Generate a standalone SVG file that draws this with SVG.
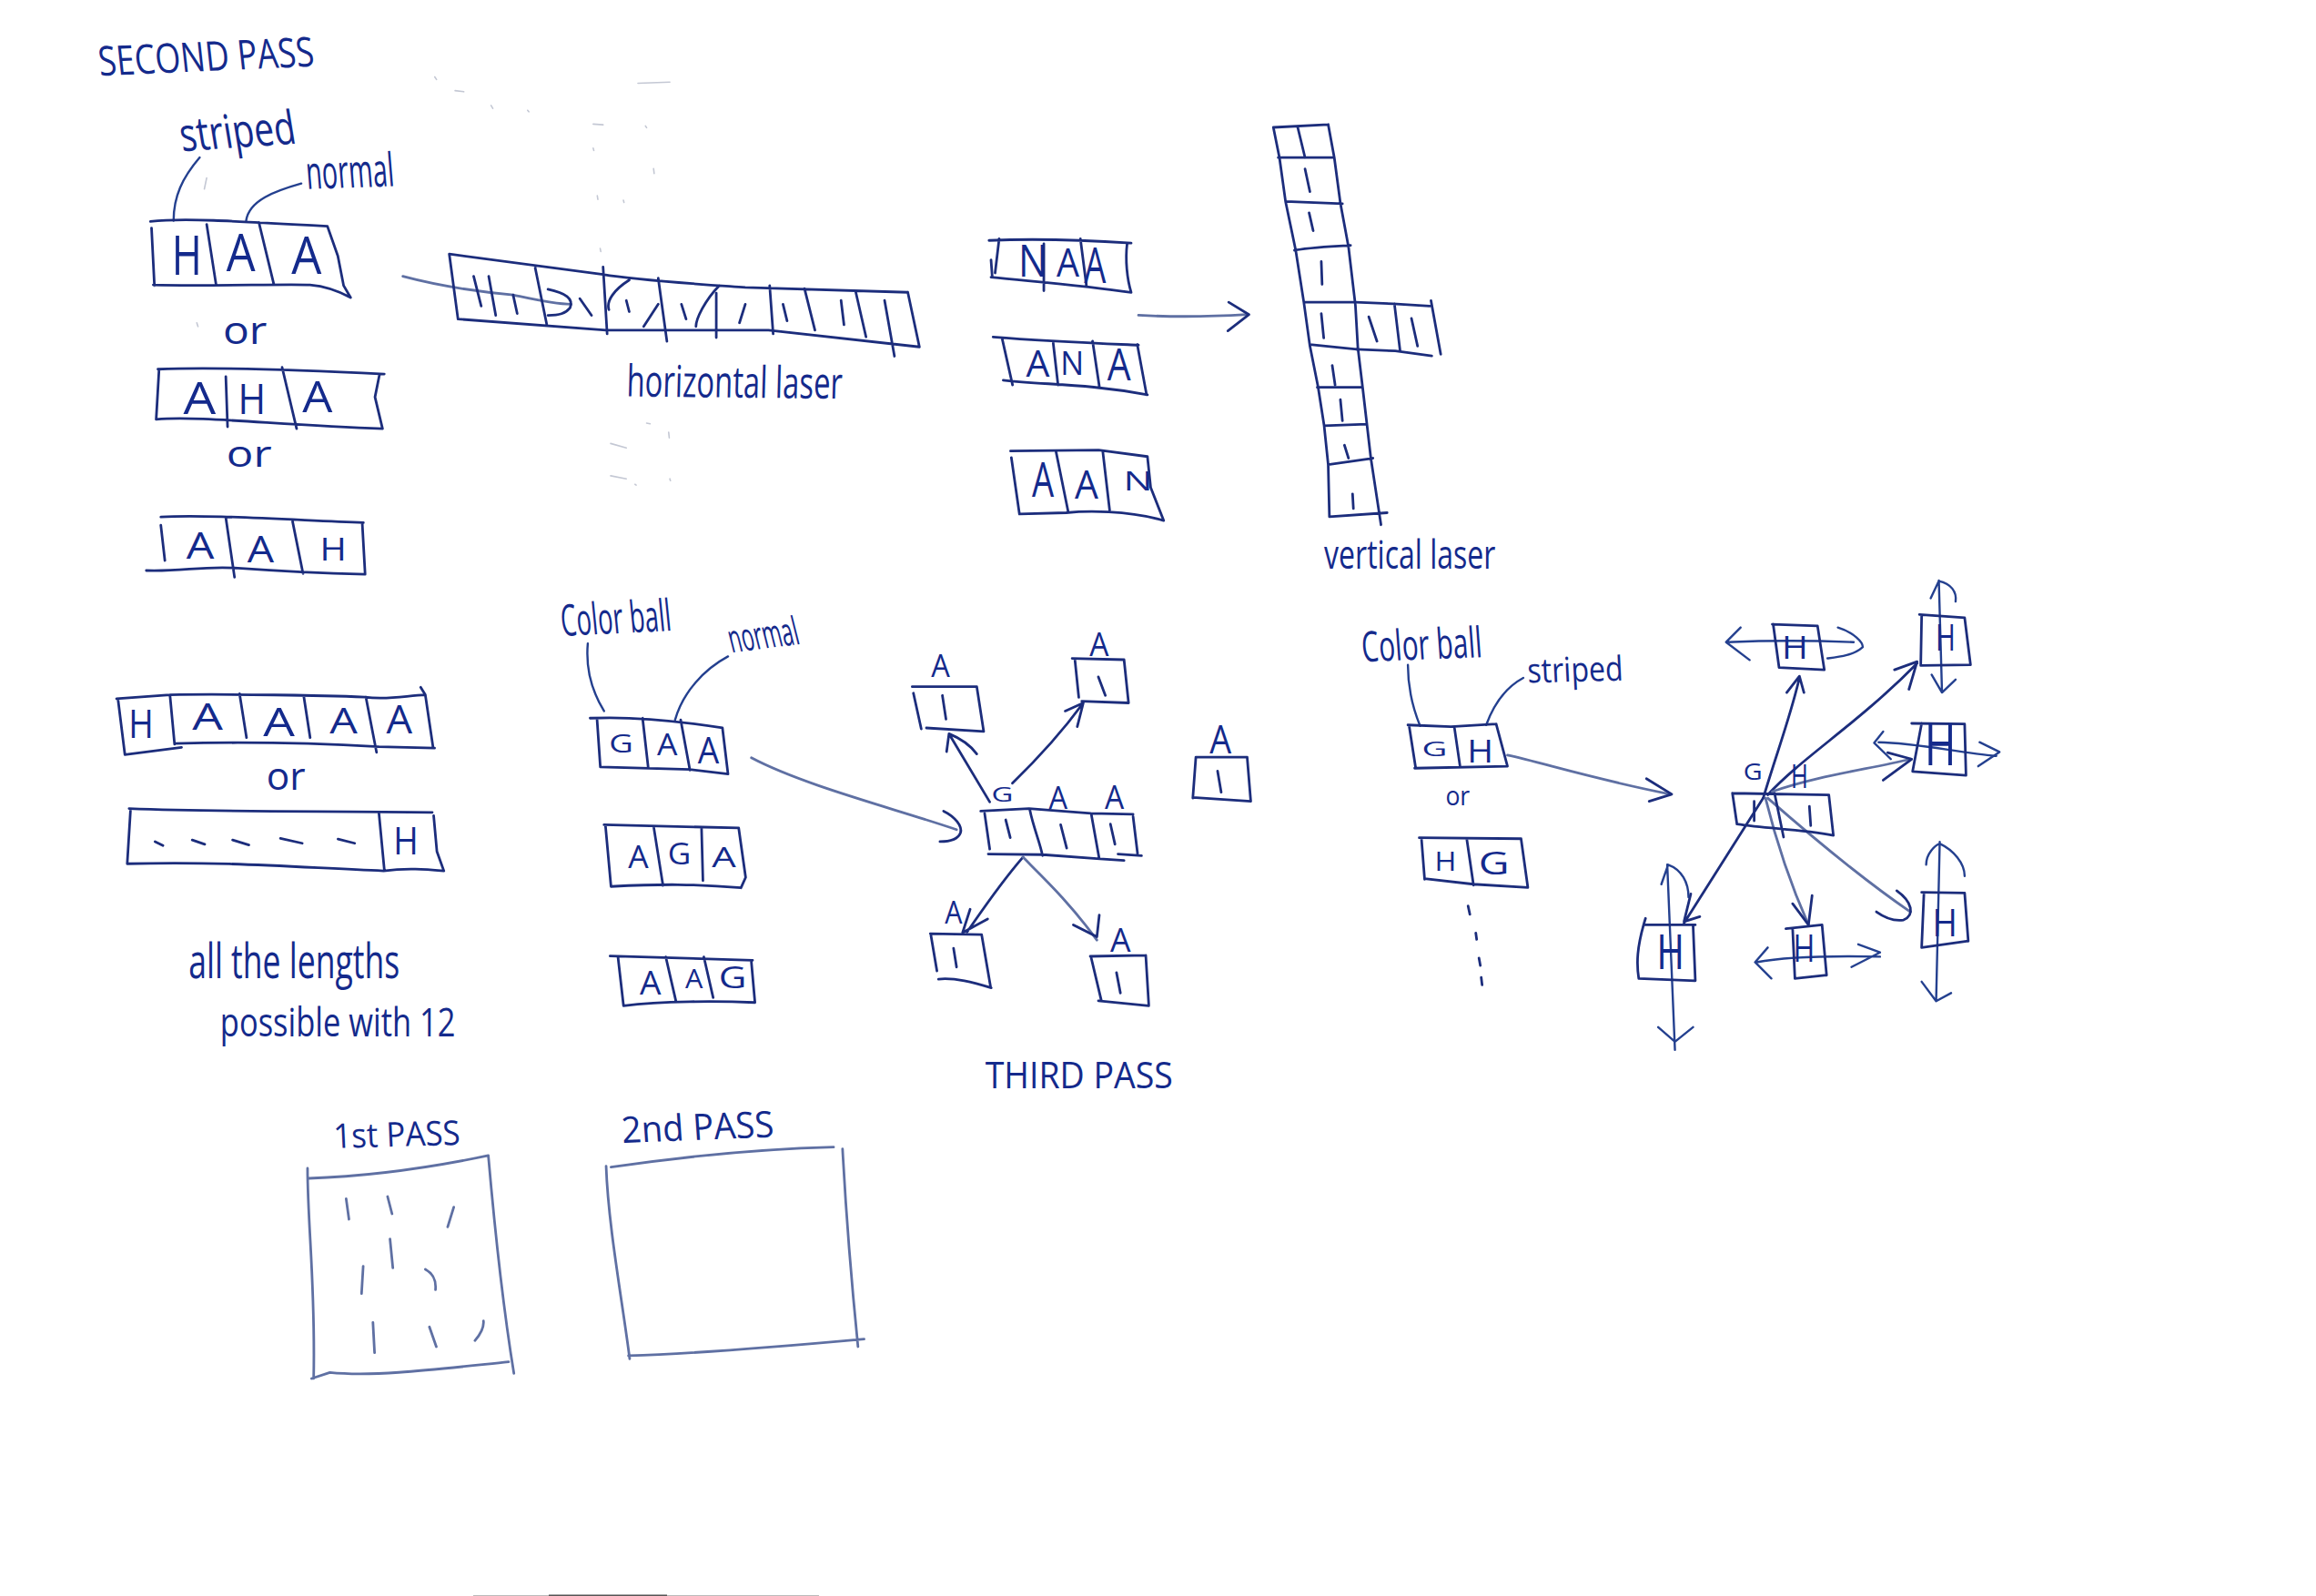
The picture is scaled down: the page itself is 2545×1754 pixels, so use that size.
<svg xmlns="http://www.w3.org/2000/svg" width="2545" height="1754" viewBox="0 0 2545 1754">
<style>
.z1{transform:translate(60px,20px) scale(.6378,.4082)}
.z2{transform:translate(1060px,100px) scale(.4464,.3571)}
.z3{transform:translate(100px,650px) scale(.5102,.3571)}
.z4{transform:translate(950px,660px) scale(.3316,.3571)}
.z5{transform:translate(1470px,620px) scale(.4974,.3571)}
.z6{transform:translate(300px,1180px) scale(.4464,.3333)}
path{fill:none;stroke:#1c2d7c;stroke-width:2.8;stroke-linecap:round;stroke-linejoin:round;vector-effect:non-scaling-stroke}
path.p{stroke:#5f70a3}
path.c{stroke:#24408f;stroke-width:2.4}
path.s{stroke:#c4c8d4;stroke-width:1.6}
text{font-family:"Open Sans","Liberation Sans",sans-serif;font-weight:400;fill:#142a8c}
</style>
<rect width="2545" height="1754" fill="#fff"/>
<rect x="520" y="1753" width="380" height="1" fill="#bbb"/>
<rect x="603" y="1752.5" width="130" height="1.5" fill="#555"/>
<g id="specks" class="z1"><path class="s" d="M1005,175L1060,172M655,158L658,165M690,195L705,198M752,235L755,243M815,248L817,252M928,285L945,287M1018,290L1020,295M928,350L929,356M1032,405L1033,418M935,478L936,488M980,490L981,496M940,620L941,628M1020,1090L1026,1092M1058,1115L1059,1130M958,1145L985,1157M958,1232L985,1240M1000,1255L1002,1257M1060,1240L1061,1245M245,820L247,830M262,430L258,460"/></g>

<g id="connectors">
<g class="z1">
<path class="c" d="M250,375C220,430 205,480 205,545M425,445C380,465 335,490 330,545"/>
<path class="p" d="M600,695C660,720 720,735 790,745C820,755 860,770 890,770"/>
<path d="M850,730C880,740 895,755 888,780C880,795 870,800 850,800"/>
</g>
<g class="z2"><path class="p" d="M428,690C500,695 600,695 695,688"/><path d="M650,650L700,688L648,738"/></g>
<g class="z3"><path class="c" d="M1070,160C1065,240 1080,310 1105,368M1258,395C1275,310 1320,240 1372,200"/></g>
<g class="z4">
<path class="p" d="M-375,484C-200,570 100,640 305,705"/><path d="M262,648C300,665 325,695 318,715C310,735 280,742 250,742"/>
<path d="M415,620L280,410M272,465L280,410C320,425 350,445 372,472"/>
<path d="M490,562C570,490 650,410 725,315M665,340L725,315L705,388"/>
<path d="M525,790C450,870 400,940 340,1020M350,950L325,1022L408,980"/>
<path class="p" d="M525,790C600,860 680,930 770,1045"/><path d="M692,998L770,1035L778,968"/>
</g>
<g class="z5">
<path class="c" d="M155,310C155,380 165,440 182,498M410,350C370,380 345,430 328,495"/>
<path class="p" d="M375,588C450,610 560,660 735,708"/><path d="M682,660L738,708L688,730"/>
<path d="M940,720L765,1105M780,1015L765,1100L800,1085"/>
<path d="M940,720C970,580 1000,470 1020,350M992,395L1020,345L1030,395"/>
<path d="M950,710C1030,590 1150,490 1280,305M1230,325L1280,300L1262,385"/>
<path class="p" d="M960,700C1060,650 1180,630 1265,600"/><path d="M1215,580L1268,600L1205,665"/>
<path class="p" d="M945,720C970,860 1005,1000 1040,1110"/><path d="M1005,1045L1040,1110L1048,1020"/>
<path class="p" d="M950,720C1040,830 1150,960 1265,1070"/><path d="M1235,1005C1270,1040 1275,1080 1250,1095C1225,1100 1205,1085 1190,1070"/>
<path class="c" d="M860,240C950,235 1050,235 1140,240M890,195L858,240L910,295M1105,195C1140,210 1160,240 1160,255C1140,280 1110,285 1082,290"/>
<path class="c" d="M1328,50L1335,395M1310,105L1328,52C1355,60 1368,85 1365,115M1312,340L1335,395L1365,355"/>
<path class="c" d="M1195,548C1280,550 1370,580 1455,590M1205,515L1185,550L1222,600M1418,548L1462,578L1415,622"/>
<path class="c" d="M728,925L745,1495M715,985L730,925C760,940 775,980 775,1025M708,1425L745,1470L785,1425"/>
<path class="c" d="M925,1225C1000,1205 1100,1205 1198,1208M950,1180L922,1225L958,1275M1150,1170L1198,1195L1135,1240"/>
<path class="c" d="M1330,855L1322,1345M1300,925C1300,890 1320,865 1330,860C1360,880 1385,920 1385,960M1290,1285L1322,1345L1355,1320"/>
</g>
</g>

<g id="second-pass-title" class="z1"><text x="78" y="155" font-size="110" textLength="372" lengthAdjust="spacingAndGlyphs" transform="rotate(-4 78 155)">SECOND PASS</text></g>
<g id="label-striped-1" class="z1"><text x="220" y="358" font-size="125" textLength="200" lengthAdjust="spacingAndGlyphs" transform="rotate(-6 220 358)">striped</text></g>
<g id="label-normal-1" class="z1"><text x="435" y="460" font-size="125" textLength="152" lengthAdjust="spacingAndGlyphs" transform="rotate(-3 435 460)">normal</text></g>

<g id="row-haa" class="z1">
<path d="M165,547C220,538 300,545 470,560M470,560L488,640L498,720L510,752M170,718C260,722 400,715 440,718C470,722 490,735 510,752M167,565L172,720M262,555L278,715M352,550L378,718"/>
<text x="202" y="690" font-size="146" textLength="52" lengthAdjust="spacingAndGlyphs">H</text>
<text x="296" y="680" font-size="140" textLength="50" lengthAdjust="spacingAndGlyphs">A</text>
<text x="408" y="688" font-size="140" textLength="52" lengthAdjust="spacingAndGlyphs">A</text>
</g>
<g id="or-1" class="z1"><text x="290" y="878" font-size="105" textLength="76" lengthAdjust="spacingAndGlyphs">or</text></g>
<g id="row-aha" class="z1">
<path d="M178,945C250,940 400,945 568,958M180,945L175,1080M560,958L552,1020L565,1105M175,1080C250,1070 380,1095 565,1105M295,965L298,1100M392,940L417,1105"/>
<text x="222" y="1065" font-size="120" textLength="56" lengthAdjust="spacingAndGlyphs">A</text>
<text x="316" y="1065" font-size="112" textLength="48" lengthAdjust="spacingAndGlyphs">H</text>
<text x="427" y="1060" font-size="118" textLength="52" lengthAdjust="spacingAndGlyphs">A</text>
</g>
<g id="or-2" class="z1"><text x="296" y="1208" font-size="100" textLength="78" lengthAdjust="spacingAndGlyphs">or</text></g>
<g id="row-aah" class="z1">
<path d="M183,1343C250,1335 400,1350 532,1358M183,1365L190,1460M530,1358L535,1497M158,1487C220,1490 250,1475 310,1480C400,1490 480,1495 535,1497M295,1345L310,1505M410,1355L428,1495"/>
<text x="227" y="1455" font-size="98" textLength="48" lengthAdjust="spacingAndGlyphs">A</text>
<text x="332" y="1465" font-size="98" textLength="46" lengthAdjust="spacingAndGlyphs">A</text>
<text x="457" y="1460" font-size="84" textLength="46" lengthAdjust="spacingAndGlyphs">H</text>
</g>

<g id="horizontal-strip" class="z1">
<path d="M680,635L945,690C1000,705 1100,715 1190,725L1470,738M695,810L950,840L1230,840L1490,885M680,635L695,810M1470,738L1490,885M828,672L848,825M945,670L952,850M1040,700L1055,870M990,705C965,730 950,760 955,785M1040,770L1015,830M1145,720C1120,760 1105,810 1105,830M1140,740L1140,860M1190,770L1180,820M1232,720L1238,850M1292,728L1310,840M1380,735L1398,858M1430,760L1447,910"/>
<path d="M722,695L735,775M748,695L760,800M790,745L797,795M905,755L925,800M985,760L990,790M1080,770L1088,810M1255,770L1262,815M1355,760L1360,825"/>
</g>
<g id="label-horizontal-laser" class="z1"><text x="985" y="1018" font-size="118" textLength="372" lengthAdjust="spacingAndGlyphs" transform="rotate(1 985 1018)">horizontal laser</text></g>

<g id="row-naa" class="z2">
<path d="M60,460C150,455 250,455 410,468M85,455L75,560M65,520L68,572M400,470C395,520 400,580 410,620M65,573C200,590 300,600 410,620M195,470L195,615M285,455L300,600"/>
<text x="132" y="570" font-size="139" textLength="72" lengthAdjust="spacingAndGlyphs">N</text>
<text x="226" y="570" font-size="125" textLength="56" lengthAdjust="spacingAndGlyphs">A</text>
<text x="294" y="590" font-size="155" textLength="54" lengthAdjust="spacingAndGlyphs">A</text>
</g>
<g id="row-ana" class="z2">
<path d="M70,757C200,770 300,775 428,782M92,760L118,905M425,780L448,935M95,890C200,905 300,900 450,935M218,775L230,905M315,770L332,912"/>
<text x="151" y="880" font-size="111" textLength="58" lengthAdjust="spacingAndGlyphs">A</text>
<text x="236" y="875" font-size="104" textLength="58" lengthAdjust="spacingAndGlyphs">N</text>
<text x="351" y="890" font-size="139" textLength="58" lengthAdjust="spacingAndGlyphs">A</text>
</g>
<g id="row-aan" class="z2">
<path d="M113,1108L330,1105L450,1125M115,1128L135,1302M450,1125L458,1220L490,1322M135,1302L250,1298C300,1292 400,1290 490,1322M225,1110L255,1295M340,1108L357,1290"/>
<text x="166" y="1250" font-size="146" textLength="54" lengthAdjust="spacingAndGlyphs">A</text>
<text x="271" y="1255" font-size="125" textLength="58" lengthAdjust="spacingAndGlyphs">A</text>
<text x="391" y="1230" font-size="84" textLength="72" lengthAdjust="spacingAndGlyphs">N</text>
</g>
<g id="vertical-strip" class="z2">
<path d="M760,112L775,205L790,340L815,490L835,650L850,785L870,910L885,1030L895,1150L898,1310M895,103L910,205L925,345L945,480L962,660L968,790L980,915L1000,1130L1025,1335M760,112L895,103M772,205L910,205M790,340L930,347M812,490C860,480 900,478 950,475M835,650L962,650M850,780L965,795M868,912L978,912M885,1030L990,1025M895,1150L1005,1130M898,1310L1040,1298M820,112L838,205"/>
<path d="M838,240L850,310M848,375L858,430M878,525L880,595M878,685L884,760M905,845L912,905M925,950L930,1015M935,1090L945,1130M955,1240L957,1285"/>
<path d="M962,650L1055,655L1145,662M1148,645L1172,810M965,795L1060,800L1150,815M1058,655L1072,800M995,695L1015,770M1100,700L1115,785"/>
</g>
<g id="label-vertical-laser" class="z2"><text x="885" y="1470" font-size="125" textLength="422" lengthAdjust="spacingAndGlyphs">vertical laser</text></g>

<g id="row-haaaa" class="z3">
<path d="M55,330L170,318C300,315 500,320 590,325C640,335 680,320 720,318M58,330L73,502M710,295L720,318L737,482M73,502L195,480M180,468C260,465 400,460 620,478L740,482M170,318L180,470M320,315L335,450M458,320L472,450M592,325L615,495"/>
<text x="81" y="450" font-size="125" textLength="54" lengthAdjust="spacingAndGlyphs">H</text>
<text x="218" y="425" font-size="111" textLength="66" lengthAdjust="spacingAndGlyphs">A</text>
<text x="371" y="445" font-size="121" textLength="68" lengthAdjust="spacingAndGlyphs">A</text>
<text x="514" y="438" font-size="108" textLength="60" lengthAdjust="spacingAndGlyphs">A</text>
<text x="636" y="438" font-size="122" textLength="56" lengthAdjust="spacingAndGlyphs">A</text>
</g>
<g id="or-3" class="z3"><text x="378" y="610" font-size="120" textLength="84" lengthAdjust="spacingAndGlyphs">or</text></g>
<g id="row-dashes" class="z3">
<path d="M82,668C300,680 500,675 735,680M85,675L78,838M738,690L745,800L760,860M78,838C300,830 450,850 630,860C680,850 720,855 760,860M620,680L632,860M138,770L155,782M218,765L245,778M305,765L340,780M408,760L455,775M532,762L568,775"/>
<text x="651" y="810" font-size="118" textLength="54" lengthAdjust="spacingAndGlyphs">H</text>
</g>
<g id="label-all-lengths" class="z3">
<text x="210" y="1190" font-size="150" textLength="455" lengthAdjust="spacingAndGlyphs">all the lengths</text>
<text x="278" y="1370" font-size="125" textLength="507" lengthAdjust="spacingAndGlyphs">possible with 12</text>
</g>
<g id="label-colorball-1" class="z3"><text x="1015" y="137" font-size="135" textLength="238" lengthAdjust="spacingAndGlyphs" transform="rotate(-4 1015 137)">Color ball</text></g>
<g id="label-normal-2" class="z3"><text x="1380" y="188" font-size="120" textLength="152" lengthAdjust="spacingAndGlyphs" transform="rotate(-10 1380 188)">normal</text></g>
<g id="row-gaa" class="z3">
<path d="M1075,390C1150,385 1250,395 1360,420M1090,395L1097,540M1360,420L1372,562M1097,540L1290,548L1372,562M1188,390L1200,540M1270,395L1290,550"/>
<text x="1116" y="495" font-size="76" textLength="52" lengthAdjust="spacingAndGlyphs">G</text>
<text x="1219" y="505" font-size="90" textLength="44" lengthAdjust="spacingAndGlyphs">A</text>
<text x="1307" y="530" font-size="111" textLength="46" lengthAdjust="spacingAndGlyphs">A</text>
</g>
<g id="row-aga" class="z3">
<path d="M1105,718L1395,728M1108,720L1120,908M1395,728L1410,880L1400,912M1120,908C1230,900 1300,900 1400,912M1212,725L1232,905M1315,730L1318,890"/>
<text x="1157" y="850" font-size="97" textLength="44" lengthAdjust="spacingAndGlyphs">A</text>
<text x="1242" y="840" font-size="90" textLength="50" lengthAdjust="spacingAndGlyphs">G</text>
<text x="1337" y="848" font-size="88" textLength="52" lengthAdjust="spacingAndGlyphs">A</text>
</g>
<g id="row-aag" class="z3">
<path d="M1118,1122L1425,1135M1135,1125L1147,1275M1422,1135L1430,1265M1147,1275C1230,1260 1350,1260 1430,1265M1238,1125L1260,1262M1320,1125L1340,1250"/>
<text x="1182" y="1240" font-size="104" textLength="46" lengthAdjust="spacingAndGlyphs">A</text>
<text x="1280" y="1222" font-size="80" textLength="38" lengthAdjust="spacingAndGlyphs">A</text>
<text x="1352" y="1220" font-size="90" textLength="60" lengthAdjust="spacingAndGlyphs">G</text>
</g>

<g id="laser-center" class="z4">
<path d="M385,648L545,640L750,655L890,658M398,655L415,765M410,780L590,782L780,795L860,800M840,780L918,785M890,665L905,780M548,645C560,700 580,740 590,785M752,660L778,795M468,675L483,730M650,690L670,762M815,688L830,750"/>
<text x="421" y="620" font-size="62" textLength="72" lengthAdjust="spacingAndGlyphs">G</text>
<text x="611" y="640" font-size="97" textLength="62" lengthAdjust="spacingAndGlyphs">A</text>
<text x="796" y="640" font-size="104" textLength="64" lengthAdjust="spacingAndGlyphs">A</text>
</g>
<g id="cell-top-left" class="z4"><path d="M158,265L372,265M162,285L188,395M372,265L395,403M205,392L395,403M258,292L270,365"/><text x="221" y="235" font-size="97" textLength="62" lengthAdjust="spacingAndGlyphs">A</text></g>
<g id="cell-top-right" class="z4"><path d="M688,178L860,182M697,180L710,298M860,182L875,315M720,310L875,315M775,235L798,292"/><text x="746" y="170" font-size="104" textLength="64" lengthAdjust="spacingAndGlyphs">A</text></g>
<g id="cell-right" class="z4"><path d="M1098,482L1268,482M1098,482L1088,608M1268,482L1280,618M1088,606L1280,618M1170,525L1182,590"/><text x="1144" y="470" font-size="125" textLength="72" lengthAdjust="spacingAndGlyphs">A</text></g>
<g id="cell-bottom-left" class="z4"><path d="M218,1025L388,1028M220,1030L240,1140M388,1028L418,1190M245,1165C300,1160 360,1175 420,1192M295,1070L305,1128"/><text x="266" y="995" font-size="97" textLength="58" lengthAdjust="spacingAndGlyphs">A</text></g>
<g id="cell-bottom-right" class="z4"><path d="M748,1095L932,1092M750,1095L785,1232M932,1092L942,1245M775,1232L942,1247M835,1145L848,1208"/><text x="814" y="1080" font-size="104" textLength="68" lengthAdjust="spacingAndGlyphs">A</text></g>
<g id="label-third-pass" class="z4"><text x="400" y="1500" font-size="112" textLength="622" lengthAdjust="spacingAndGlyphs">THIRD PASS</text></g>

<g id="label-colorball-2" class="z5"><text x="55" y="300" font-size="130" textLength="266" lengthAdjust="spacingAndGlyphs" transform="rotate(-3 55 300)">Color ball</text></g>
<g id="label-striped-2" class="z5"><text x="420" y="365" font-size="105" textLength="212" lengthAdjust="spacingAndGlyphs" transform="rotate(-2 420 365)">striped</text></g>
<g id="row-gh" class="z5">
<path d="M155,495L250,500L350,492M158,500L172,625M350,492L375,622M170,628L375,622M258,505L270,620"/>
<text x="186" y="590" font-size="62" textLength="56" lengthAdjust="spacingAndGlyphs">G</text>
<text x="286" y="610" font-size="97" textLength="58" lengthAdjust="spacingAndGlyphs">H</text>
</g>
<g id="or-4" class="z5"><text x="238" y="742" font-size="80" textLength="54" lengthAdjust="spacingAndGlyphs">or</text></g>
<g id="row-hg" class="z5">
<path d="M180,842L405,845M185,845L192,970M405,845L420,995M192,968L300,985L420,995M285,845L300,988"/>
<text x="214" y="945" font-size="83" textLength="48" lengthAdjust="spacingAndGlyphs">H</text>
<text x="311" y="955" font-size="97" textLength="68" lengthAdjust="spacingAndGlyphs">G</text>
<path d="M288,1052L292,1078M305,1135L307,1155M312,1212L315,1235M317,1272L319,1295"/>
</g>
<g id="striped-center" class="z5">
<path d="M872,705L1085,710M872,705L882,800M1085,710L1095,835M882,800C950,815 1020,815 1095,835M965,705L985,840M920,730L920,790M1042,745L1045,805"/>
<text x="896" y="665" font-size="69" textLength="42" lengthAdjust="spacingAndGlyphs">G</text>
<text x="1001" y="690" font-size="104" textLength="38" lengthAdjust="spacingAndGlyphs">H</text>
</g>
<g id="h-top-center" class="z5"><path d="M960,185L1060,190M962,185L975,318M1060,190L1075,325M975,318L1075,325"/><text x="981" y="290" font-size="97" textLength="58" lengthAdjust="spacingAndGlyphs">H</text></g>
<g id="h-top-right" class="z5"><path d="M1285,155L1385,165M1290,160L1288,312M1385,165L1398,310M1288,312L1398,310"/><text x="1321" y="265" font-size="111" textLength="44" lengthAdjust="spacingAndGlyphs">H</text></g>
<g id="h-mid-right" class="z5"><path d="M1268,490L1385,492M1290,490L1270,638M1385,492L1388,650M1270,638L1388,650"/><text x="1296" y="620" font-size="180" textLength="70" lengthAdjust="spacingAndGlyphs">H</text></g>
<g id="h-bottom-left" class="z5"><path d="M680,1110L790,1110M680,1090C660,1180 660,1230 665,1275M785,1110L790,1282M665,1275L790,1282"/><text x="704" y="1245" font-size="146" textLength="62" lengthAdjust="spacingAndGlyphs">H</text></g>
<g id="h-bottom-center" class="z5"><path d="M990,1122L1070,1110M1005,1122L1010,1275M1070,1110L1080,1265M1010,1275L1080,1265"/><text x="1006" y="1225" font-size="118" textLength="48" lengthAdjust="spacingAndGlyphs">H</text></g>
<g id="h-bottom-right" class="z5"><path d="M1290,1010L1385,1012M1295,1015L1290,1180M1385,1012L1393,1160M1290,1180L1393,1160"/><text x="1314" y="1145" font-size="118" textLength="55" lengthAdjust="spacingAndGlyphs">H</text></g>

<g id="first-pass" class="z6">
<text x="150" y="245" font-size="112" textLength="312" lengthAdjust="spacingAndGlyphs" transform="rotate(-2 150 245)">1st PASS</text>
<path class="p" d="M88,345C200,340 350,320 530,270M85,312C85,500 105,700 100,1005M530,270C545,500 570,800 593,988M95,1005L140,985C250,1000 400,975 580,950"/>
<path class="p" d="M180,412L187,480M282,405L293,462M445,440L430,505M288,545L295,640M222,635L218,725M375,645C395,660 402,680 400,712M246,820L250,920M385,835L402,900M518,815C520,840 510,860 497,880"/>
</g>
<g id="second-pass" class="z6">
<text x="860" y="228" font-size="120" textLength="375" lengthAdjust="spacingAndGlyphs" transform="rotate(-3 860 228)">2nd PASS</text>
<path class="p" d="M832,308C950,285 1150,250 1380,242M820,305C825,500 860,750 878,940M1402,248C1410,450 1425,700 1440,900M875,930C1000,925 1250,900 1455,875"/>
</g>
</svg>
